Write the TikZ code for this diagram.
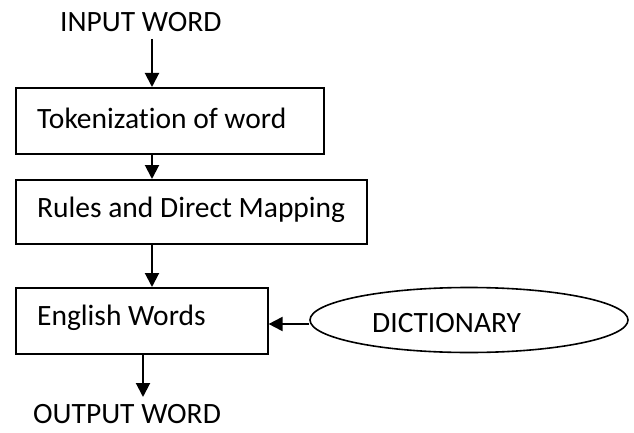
\documentclass[tikz,border=0pt]{standalone}
\usepackage{fontspec}
\setmainfont{Carlito}[Ligatures=CommonOff]
\usetikzlibrary{arrows.meta,shapes.geometric}
\begin{document}
\begin{tikzpicture}[x=1pt,y=-1pt,
  every node/.style={font=\fontsize{29.5}{32}\selectfont},
  box/.style={draw,line width=1.6pt,inner sep=0pt},
  arr/.style={line width=2pt,-{Triangle[length=14pt,width=14pt]}},
  lbl/.style={inner sep=0pt,anchor=west}]
\useasboundingbox (0,0) rectangle (634,433);
\node[lbl] (in) at (60,22) {INPUT WORD};
\node[box,minimum width=308pt,minimum height=66pt,anchor=north west] (b1) at (15,87) {};
\node[lbl] (t1) at (37,118) {Tokenization of word};
\node[box,minimum width=351pt,minimum height=64pt,anchor=north west] (b2) at (15,179) {};
\node[lbl] (t2) at (37,210) {Rules and Direct Mapping};
\node[box,minimum width=252pt,minimum height=66pt,anchor=north west] (b3) at (15,287) {};
\node[lbl] (t3) at (37,318) {English Words};
\node[draw,ellipse,line width=1.6pt,minimum width=318pt,minimum height=65pt,inner sep=0pt] (dict) at (469,320) {};
\node[lbl] (t4) at (372,323) {DICTIONARY};
\node[lbl] (out) at (33,414) {OUTPUT WORD};
\coordinate (a1s) at (152,39);
\draw[arr] (a1s) -- (b1.north -| a1s);
\draw[arr] (b1.south -| a1s) -- (b2.north -| a1s);
\draw[arr] (b2.south -| a1s) -- (b3.north -| a1s);
\coordinate (a4e) at (143,397);
\draw[arr] (b3.south -| a4e) -- (a4e);
\draw[arr] (dict.west |- 0,324) -- (b3.east |- 0,324);
\end{tikzpicture}
\end{document}
